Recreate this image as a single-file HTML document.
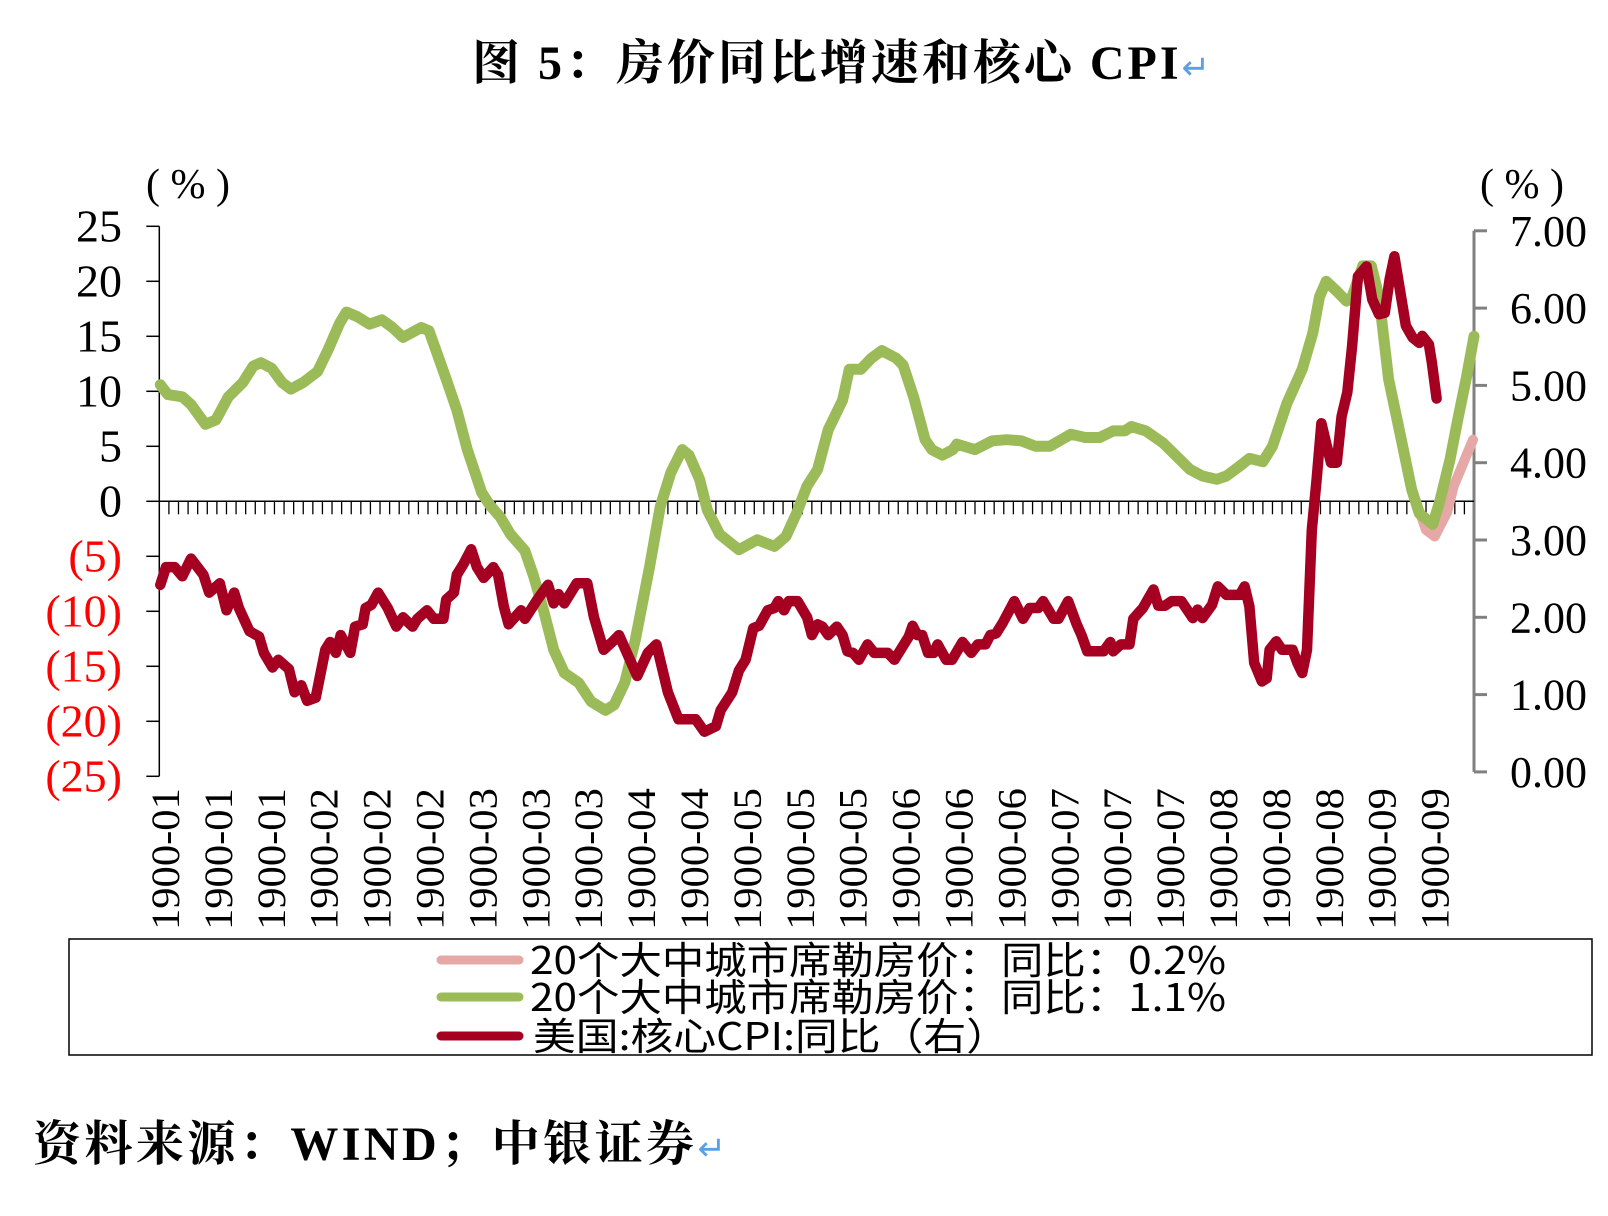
<!DOCTYPE html>
<html><head><meta charset="utf-8">
<style>
html,body{margin:0;padding:0;background:#fff;}
svg{display:block;}
</style></head>
<body>
<svg id="chart" width="1608" height="1216" viewBox="0 0 1608 1216" xmlns="http://www.w3.org/2000/svg">
  <text x="472" y="79" textLength="738" lengthAdjust="spacing" font-family="'Liberation Serif','Noto Serif CJK SC',serif" font-weight="bold" font-size="48" fill="#000">图 5：房价同比增速和核心 CPI<tspan fill="#5aa0e6" font-weight="normal" font-size="34">↵</tspan></text>
  <text x="188" y="198" text-anchor="middle" font-family="'Liberation Serif','Noto Serif CJK SC',serif" font-size="42" fill="#000">( % )</text>
  <text x="1522" y="198" text-anchor="middle" font-family="'Liberation Serif','Noto Serif CJK SC',serif" font-size="42" fill="#000">( % )</text>
  <g id="axes"></g>
  <g id="series"></g>
  <g id="xlabels"></g>
  <rect x="69" y="939" width="1523" height="116" fill="none" stroke="#000" stroke-width="1.5"/>
  <g>
    <line x1="441" y1="960" x2="519" y2="960" stroke="#E6A8A6" stroke-width="9" stroke-linecap="round"/>
    <text x="530" y="974" font-family="'WenQuanYi Zen Hei','Noto Sans CJK SC',sans-serif" font-size="38" textLength="696" lengthAdjust="spacingAndGlyphs" fill="#000">20个大中城市席勒房价：同比：0.2%</text>
  </g>
  <g>
    <line x1="441" y1="997" x2="519" y2="997" stroke="#9BBB59" stroke-width="9" stroke-linecap="round"/>
    <text x="530" y="1011" font-family="'WenQuanYi Zen Hei','Noto Sans CJK SC',sans-serif" font-size="38" textLength="696" lengthAdjust="spacingAndGlyphs" fill="#000">20个大中城市席勒房价：同比：1.1%</text>
  </g>
  <g>
    <line x1="441" y1="1036" x2="519" y2="1036" stroke="#A50021" stroke-width="9" stroke-linecap="round"/>
    <text x="533" y="1050" font-family="'WenQuanYi Zen Hei','Noto Sans CJK SC',sans-serif" font-size="38" textLength="476" lengthAdjust="spacingAndGlyphs" fill="#000">美国:核心CPI:同比（右）</text>
  </g>
  <text x="33" y="1160" textLength="693" lengthAdjust="spacing" font-family="'Liberation Serif','Noto Serif CJK SC',serif" font-weight="bold" font-size="48" fill="#000">资料来源：WIND；中银证券<tspan fill="#5aa0e6" font-weight="normal" font-size="34">↵</tspan></text>
</svg>
<script>
// ---- data (month index, value) ----
const xLabels = ["1900-01","1900-01","1900-01","1900-02","1900-02","1900-02","1900-03","1900-03","1900-03","1900-04","1900-04","1900-05","1900-05","1900-05","1900-06","1900-06","1900-06","1900-07","1900-07","1900-07","1900-08","1900-08","1900-08","1900-09","1900-09"];
const leftTicks = [25,20,15,10,5,0,-5,-10,-15,-20,-25];
const leftTickLabels = ["25","20","15","10","5","0","(5)","(10)","(15)","(20)","(25)"];
const rightTicks = [7,6,5,4,3,2,1,0];
const rightTickLabels = ["7.00","6.00","5.00","4.00","3.00","2.00","1.00","0.00"];
const greenT = [0.1,0.9,2.4,3.3,4.8,5.9,7.2,8.7,9.8,10.6,11.7,12.8,13.7,15.0,16.5,17.6,18.8,19.5,20.6,21.9,23.2,24.3,25.4,27.3,28.1,28.8,29.9,31.0,32.1,33.6,34.4,35.5,36.6,38.1,39.0,40.0,41.1,42.2,43.7,45.0,46.5,47.4,48.5,49.6,51.1,52.2,53.3,54.5,55.2,56.3,57.1,58.4,60.4,62.3,64.1,65.3,66.4,67.5,68.6,69.7,71.2,71.9,73.1,74.2,75.3,76.8,77.5,78.6,79.8,80.5,81.6,82.7,83.1,85.0,86.8,88.3,89.8,91.3,92.8,95.0,96.5,98.0,99.4,100.6,101.3,102.8,104.6,106.0,107.4,108.7,110.2,111.2,112.6,113.6,115.0,116.0,117.5,119.1,120.2,120.9,121.6,122.7,123.7,124.3,125.4,126.3,127.1,128.1,129.5,130.5,131.3,132.7,133.4,134.5,135.3,136.2,137.0];
const greenV = [10.6,9.7,9.5,8.8,7.0,7.4,9.5,10.8,12.3,12.6,12.1,10.8,10.2,10.8,11.8,13.8,16.2,17.2,16.8,16.1,16.5,15.8,14.9,15.8,15.5,13.8,11.1,8.3,4.7,0.8,-0.3,-1.4,-3.0,-4.5,-6.8,-9.8,-13.5,-15.6,-16.5,-18.2,-19.0,-18.5,-16.5,-12.6,-5.9,-0.5,2.6,4.7,4.2,2.0,-0.8,-3.0,-4.4,-3.5,-4.1,-3.2,-1.1,1.4,2.9,6.5,9.2,12.0,12.0,13.0,13.7,13.0,12.4,9.5,5.6,4.7,4.2,4.7,5.2,4.7,5.5,5.6,5.5,5.0,5.0,6.1,5.8,5.8,6.4,6.4,6.8,6.4,5.3,4.1,2.9,2.3,2.0,2.3,3.2,3.9,3.6,5.0,8.9,12.0,15.3,18.6,20.0,19.1,18.2,18.6,21.4,21.4,18.6,11.1,5.3,1.1,-1.1,-2.1,-0.1,3.8,7.4,11.2,15.0];
const pinkT = [127.1,128.1,129.5,130.5,132.0,132.9,134.2,134.9,135.9,136.9];
const pinkV = [18.6,11.1,5.3,1.1,-2.6,-3.2,-1.0,1.4,3.5,5.6];
const redT = [0.1,0.7,1.6,2.4,3.3,4.6,5.2,6.3,7.0,7.8,8.3,9.4,10.4,10.9,11.8,12.4,13.5,14.1,14.8,15.4,16.3,17.3,17.8,18.4,18.9,19.9,20.4,21.2,21.5,22.1,22.8,23.8,24.7,25.4,26.4,26.9,27.9,28.6,29.6,29.9,30.7,31.0,31.7,32.5,33.1,33.8,34.8,35.3,35.9,36.4,37.7,38.1,39.4,40.5,41.1,41.6,42.2,43.5,44.6,45.3,46.3,47.2,47.9,48.9,49.8,50.9,51.8,53.0,54.1,55.9,56.8,58.0,58.5,59.7,60.4,61.1,61.9,62.5,63.4,64.1,64.5,65.1,65.6,66.5,67.5,68.0,68.6,69.1,69.7,70.6,71.2,71.7,72.3,72.9,73.8,74.5,75.9,76.6,77.3,78.1,78.5,79.0,79.5,80.1,80.7,81.1,82.0,82.6,83.7,84.6,85.3,86.1,86.6,87.2,87.9,89.1,90.0,90.7,91.6,92.1,93.2,93.7,94.7,95.6,96.1,96.7,98.4,99.1,99.4,100.2,101.1,101.5,102.5,103.6,104.1,104.8,105.5,106.5,107.7,108.2,108.7,109.7,110.3,111.2,112.6,113.1,113.6,114.1,114.9,115.4,115.7,116.4,117.0,118.1,118.6,119.1,119.6,120.1,120.6,121.1,121.6,122.1,122.7,123.2,123.8,124.3,124.9,125.8,126.4,127.1,127.7,128.2,128.7,129.2,129.9,130.6,131.3,131.6,132.3,132.6,133.1];
const redV = [2.42,2.65,2.65,2.53,2.76,2.55,2.32,2.44,2.09,2.32,2.12,1.82,1.75,1.54,1.35,1.45,1.33,1.03,1.12,0.92,0.96,1.58,1.68,1.54,1.77,1.54,1.88,1.91,2.12,2.16,2.32,2.12,1.88,2.0,1.88,1.98,2.09,1.98,1.98,2.23,2.32,2.55,2.69,2.88,2.65,2.51,2.65,2.55,2.14,1.91,2.09,1.98,2.23,2.42,2.18,2.30,2.18,2.44,2.44,2.0,1.58,1.68,1.77,1.49,1.24,1.54,1.65,1.03,0.68,0.68,0.52,0.59,0.80,1.03,1.31,1.45,1.86,1.89,2.09,2.12,2.21,2.09,2.21,2.21,2.0,1.77,1.91,1.88,1.77,1.88,1.77,1.56,1.54,1.45,1.65,1.54,1.54,1.45,1.59,1.75,1.89,1.77,1.77,1.54,1.54,1.65,1.45,1.45,1.68,1.54,1.65,1.65,1.77,1.79,1.93,2.21,1.98,2.12,2.12,2.21,1.98,1.98,2.21,1.91,1.77,1.56,1.56,1.68,1.56,1.65,1.65,1.98,2.12,2.36,2.15,2.15,2.21,2.21,1.99,2.10,1.99,2.16,2.40,2.29,2.29,2.40,2.14,1.41,1.17,1.21,1.58,1.69,1.58,1.58,1.41,1.28,1.58,3.13,3.78,4.51,4.25,4.00,4.00,4.60,4.91,5.51,6.41,6.54,6.11,5.92,5.94,6.37,6.67,6.30,5.77,5.62,5.55,5.64,5.53,5.30,4.83];

// ---- scales ----
const X0 = 159.3, X1 = 1474, TMAX = 137;
const xScale = t => X0 + (t / TMAX) * (X1 - X0);
const yLeft = v => 501.3 - v * 11.0;
const yRight = v => 771.9 - v * 77.3;
const NS = "http://www.w3.org/2000/svg";
function mk(tag, attrs, parent) {
  const e = document.createElementNS(NS, tag);
  for (const k in attrs) e.setAttribute(k, attrs[k]);
  parent.appendChild(e);
  return e;
}
const axes = document.getElementById('axes');
const series = document.getElementById('series');
const xl = document.getElementById('xlabels');

const la = mk('line', {x1: X0, y1: yLeft(25), x2: X0, y2: yLeft(-25), stroke: '#000', 'stroke-width': 1.5}, axes);


leftTicks.forEach((v, i) => {
  const tk = mk('line', {x1: X0 - 13, y1: yLeft(v), x2: X0, y2: yLeft(v), stroke: '#000', 'stroke-width': 1.5}, axes);
  
  
  const tx = mk('text', {x: 122, y: yLeft(v) + 15, 'text-anchor': 'end', 'font-family': "'Liberation Serif',serif", 'font-size': 46, fill: v < 0 ? '#ff0000' : '#000'}, axes);
  tx.textContent = leftTickLabels[i];
  
  
});
const ra = mk('line', {x1: X1, y1: yRight(7), x2: X1, y2: yRight(0), stroke: '#808080', 'stroke-width': 3}, axes);


rightTicks.forEach((v, i) => {
  const tk = mk('line', {x1: X1, y1: yRight(v), x2: X1 + 13, y2: yRight(v), stroke: '#808080', 'stroke-width': 3}, axes);
  
  
  const tx = mk('text', {x: 1510, y: yRight(v) + 15, 'font-family': "'Liberation Serif',serif", 'font-size': 44, fill: '#000'}, axes);
  tx.textContent = rightTickLabels[i];
  
  
});
const zl = mk('line', {x1: X0, y1: yLeft(0), x2: X1, y2: yLeft(0), stroke: '#000', 'stroke-width': 1.5}, axes);


for (let k = 1; k < TMAX; k++) {
  const tk = mk('line', {x1: xScale(k), y1: yLeft(0), x2: xScale(k), y2: yLeft(0) + 13, stroke: '#000', 'stroke-width': 1.3}, axes);
  
  
}
xLabels.forEach((s, i) => {
  const cx = 165 + i * 52.9;
  const tx = mk('text', {transform: `translate(${cx + 14},930) rotate(-90) scale(1.12,1.05)`, 'font-family': "'Liberation Serif',serif", 'font-size': 38, fill: '#000'}, xl);
  tx.textContent = s;
  
  
});
function path(ts, vs, yf) {
  return ts.map((t, i) => (i ? 'L' : 'M') + xScale(t).toFixed(1) + ',' + yf(vs[i]).toFixed(1)).join(' ');
}
const pk = mk('path', {d: path(pinkT, pinkV, yLeft), fill: 'none', stroke: '#E6A8A6', 'stroke-width': 10, 'stroke-linejoin': 'round', 'stroke-linecap': 'round'}, series);


const gr = mk('path', {d: path(greenT, greenV, yLeft), fill: 'none', stroke: '#9BBB59', 'stroke-width': 11, 'stroke-linejoin': 'round', 'stroke-linecap': 'round'}, series);


const rd = mk('path', {d: path(redT, redV, yRight), fill: 'none', stroke: '#A50021', 'stroke-width': 10.5, 'stroke-linejoin': 'round', 'stroke-linecap': 'round'}, series);


</script>
</body></html>
